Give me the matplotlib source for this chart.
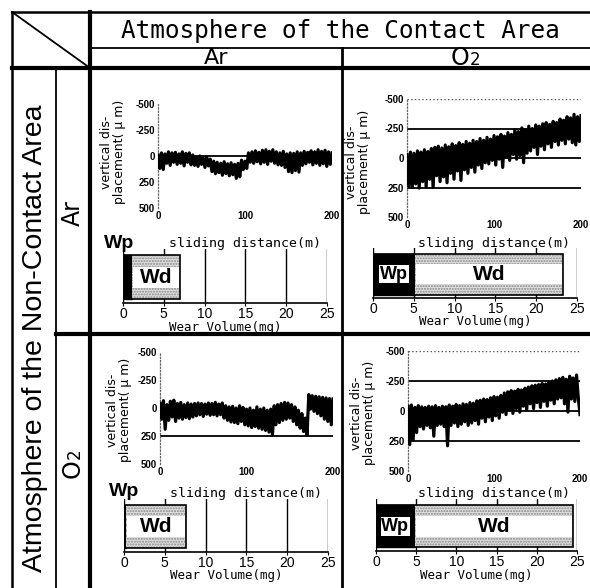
import numpy as np
import matplotlib.pyplot as plt

W, H = 590, 588

SANS = ['Liberation Sans', 'DejaVu Sans']
MONO = ['DejaVu Sans Mono']

# sliding distance (m), one reading every 2 m
distance = np.arange(0, 201, 2)

# vertical displacement (um), upper / lower excursions in turn
# non-contact Ar, contact Ar
disp_ar_ar = [-10, 120, -30, 130, -20, 70, -40, 90, -30, 60,
              -35, 80, -20, 70, -40, 95, -25, 60, -30, 85,
              -10, 90, 10, 100, 0, 80, 20, 110, 10, 95,
              30, 150, 50, 170, 60, 160, 70, 185, 55, 170,
              75, 190, 65, 180, 80, 215, 70, 200, 40, 130,
              50, 120, -30, 60, -40, 70, -50, 55, -35, 75,
              -55, 60, -60, 80, -45, 50, -60, 70, -40, 85,
              -30, 90, -45, 110, -20, 150, -30, 160, -25, 140,
              -40, 155, -30, 90, -45, 75, -35, 60, -50, 85,
              -40, 70, -60, 90, -45, 75, -55, 100, -40, 80, -30]
# non-contact Ar, contact O2
disp_ar_o2 = [-30, 240, -50, 250, -40, 220, -60, 255, -50, 200,
              -70, 245, -55, 180, -80, 250, -90, 150, -100, 200,
              -85, 160, -110, 210, -95, 130, -120, 180, -105, 110,
              -130, 190, -115, 100, -140, 130, -125, 80, -150, 120,
              -140, 60, -165, 90, -150, 40, -175, 50, -160, 20,
              -190, 60, -180, 10, -200, 80, -185, -10, -215, 20,
              -200, -30, -240, 10, -225, -20, -255, 40, -240, -40,
              -270, -60, -250, -90, -280, -30, -270, -100, -290, -70,
              -300, -120, -285, -90, -310, -140, -300, -110, -330, -150,
              -320, -120, -350, -160, -340, -130, -370, -110, -350, -140, -360]
# non-contact O2, contact Ar
disp_o2_ar = [-40, 100, -65, 190, -30, 110, -60, 80, -70, 120,
              -40, 90, -50, 100, -30, 85, -45, 95, -35, 80,
              -40, 70, -45, 60, -40, 75, -35, 55, -45, 65,
              -40, 60, -50, 70, -35, 60, -45, 90, -20, 110,
              -10, 125, -15, 130, 0, 140, -20, 120, -5, 150,
              10, 160, 0, 175, 20, 165, -10, 180, 10, 190,
              0, 200, 20, 215, 10, 240, -20, 150, -30, 130,
              -40, 110, -50, 100, -45, 90, -30, 120, -10, 150,
              20, 180, 50, 210, 90, 245, -120, 10, -110, 30,
              -105, 50, -100, 70, -95, 100, -90, 120, -85, 150, -80]
# non-contact O2, contact O2
disp_o2_o2 = [-40, 280, -50, 240, -30, 180, -45, 130, -35, 150,
              -30, 120, -40, 140, -35, 210, -45, 120, -30, 110,
              -40, 130, -35, 290, -50, 120, -40, 100, -55, 130,
              -45, 110, -60, 90, -55, 120, -70, 100, -65, 80,
              -85, 110, -90, 60, -100, 90, -95, 50, -110, 80,
              -120, 40, -115, 60, -130, 10, -150, 30, -160, -10,
              -170, 20, -165, -20, -180, 10, -175, -40, -190, -10,
              -200, -60, -210, -20, -215, -70, -220, -30, -230, -80,
              -225, -40, -240, -90, -250, -60, -260, -100, -270, -110,
              -280, -60, -265, 10, -290, -100, -275, -80, -300, -110, 30]

traces = [disp_ar_ar, disp_ar_o2, disp_o2_ar, disp_o2_o2]

# wear volume (mg): Wp and Wd parts of each bar
wp_volume = [1.1, 5.2, 0.2, 4.8]
wd_volume = [5.9, 18.1, 7.4, 19.7]

y_ticks = [-500, -250, 0, 250, 500]
x_ticks = [0, 100, 200]
wear_ticks = [0, 5, 10, 15, 20, 25]

# layout in pixels (x0, y0, x1, y1)
panels = [
    dict(plot=(158, 104, 332, 208), bar=(123, 249, 327, 303), solid=[0], dotted=[],
         ylab=(113, 152), slide_y=243, wp_out=(119, 243)),
    dict(plot=(407, 99, 581, 217), bar=(373, 248, 577, 298), solid=[-250, 0, 250], dotted=[-500],
         ylab=(358, 162), slide_y=243, wp_out=None),
    dict(plot=(160, 352, 333, 464), bar=(124, 499, 328, 552), solid=[250], dotted=[],
         ylab=(119, 410), slide_y=493, wp_out=(124, 492)),
    dict(plot=(408, 351, 580, 471), bar=(376, 499, 577, 551), solid=[-250, 0, 250], dotted=[-500],
         ylab=(363, 413), slide_y=493, wp_out=None),
]


def px_axes(fig, box):
    x0, y0, x1, y1 = box
    return fig.add_axes([x0 / W, 1 - y1 / H, (x1 - x0) / W, (y1 - y0) / H])


def o2_label(ax, x, y, rot):
    # "O" with a smaller "2" on the same baseline
    if rot:
        ax.text(x, y + 6, 'O', fontsize=17, rotation=90, ha='center', va='center')
        ax.text(x + 2, y - 9, '2', fontsize=12, rotation=90, ha='center', va='center')
    else:
        ax.text(x - 6, y, 'O', fontsize=17, ha='center', va='center')
        ax.text(x + 9, y + 2, '2', fontsize=12, ha='center', va='center')


fig = plt.figure(figsize=(W / 100, H / 100), dpi=100)

# table frame and headings, drawn in pixel coordinates
ov = fig.add_axes([0, 0, 1, 1])
ov.set_xlim(0, W)
ov.set_ylim(H, 0)
ov.axis('off')

ov.plot([12, W], [12, 12], color='k', lw=1.8)
ov.plot([12, 12], [12, H], color='k', lw=1.8)
ov.plot([12, 90], [12, 68], color='k', lw=1.3)
ov.plot([90, 90], [12, H], color='k', lw=3)
ov.plot([90, W], [48, 48], color='k', lw=1.3)
ov.plot([12, W], [68, 68], color='k', lw=3)
ov.plot([342, 342], [48, H], color='k', lw=2)
ov.plot([56, 56], [68, H], color='k', lw=1.3)
ov.plot([56, W], [334, 334], color='k', lw=3)

ov.text(340, 31, 'Atmosphere of the Contact Area', family=MONO, fontsize=17.6,
        ha='center', va='center')
ov.text(216, 58, 'Ar', fontsize=16, ha='center', va='center')
o2_label(ov, 466, 58, False)
ov.text(35, 338, 'Atmosphere of the Non-Contact Area', family=SANS,
        fontsize=20.5, rotation=90, ha='center', va='center')
ov.text(73, 213, 'Ar', fontsize=17, rotation=90, ha='center', va='center')
o2_label(ov, 73, 463, True)

for k, p in enumerate(panels):
    # displacement trace
    ax = px_axes(fig, p['plot'])
    ax.patch.set_alpha(0)
    ax.plot(distance, traces[k], color='black', lw=2.3, zorder=3)
    for lev in p['solid']:
        ax.axhline(lev, color='black', lw=1.3, zorder=2)
    for lev in p['dotted']:
        ax.axhline(lev, color='#555555', lw=1, ls=':', zorder=2)
    ax.set_xlim(0, 200)
    ax.set_ylim(500, -500)
    ax.set_yticks(y_ticks)
    ax.set_yticklabels([str(v) for v in y_ticks])
    ax.set_xticks(x_ticks)
    ax.set_xticklabels([str(v) for v in x_ticks])
    ax.tick_params(length=0, pad=2, labelsize=7)
    for lab in ax.get_xticklabels() + ax.get_yticklabels():
        lab.set_family(SANS)
        lab.set_fontweight('bold')
    for s in ['top', 'right', 'bottom']:
        ax.spines[s].set_visible(False)
    ax.spines['left'].set_linestyle(':')
    ax.spines['left'].set_color('#666666')
    ax.spines['left'].set_linewidth(0.9)

    cx = (p['plot'][0] + p['plot'][2]) / 2
    ov.text(cx, p['slide_y'], 'sliding distance(m)', family=MONO, fontsize=9.5,
            ha='center', va='center')
    ov.text(p['ylab'][0], p['ylab'][1], 'vertical dis-\nplacement( \u03bc m)', fontsize=9,
            rotation=90, ha='center', va='center', linespacing=0.95)

    # wear volume bar
    bx = px_axes(fig, p['bar'])
    bx.patch.set_alpha(0)
    wp, wd = wp_volume[k], wd_volume[k]
    bx.barh(0.475, wp, left=0, height=0.81, color='black', edgecolor='black', lw=1, zorder=3)
    bx.barh(0.475, wd, left=wp, height=0.81, color='#dedede', edgecolor='#8a8a8a',
            hatch='......', lw=0, zorder=3)
    bx.barh(0.475, wd - 0.25, left=wp + 0.12, height=0.4, color='white', lw=0, zorder=4)
    bx.barh(0.475, wp + wd, left=0, height=0.81, fill=False, edgecolor='black', lw=1.2, zorder=5)
    bx.text(wp + wd / 2, 0.475, 'Wd', family=SANS, fontweight='bold', fontsize=15,
            ha='center', va='center', zorder=6)
    if p['wp_out'] is None:
        bx.text(wp / 2, 0.475, 'Wp', family=SANS, fontweight='bold', fontsize=13,
                ha='center', va='center', zorder=6,
                bbox=dict(facecolor='white', edgecolor='none', pad=0.5))
    else:
        ov.text(p['wp_out'][0], p['wp_out'][1], 'Wp', family=SANS, fontweight='bold',
                fontsize=14, ha='center', va='center')
    bx.set_xlim(0, 25)
    bx.set_ylim(0, 1)
    bx.set_xticks(wear_ticks)
    bx.set_xticklabels([str(v) for v in wear_ticks])
    bx.set_yticks([])
    bx.set_axisbelow(True)
    bx.grid(axis='x', color='black', lw=1)
    bx.tick_params(axis='x', length=2, pad=1, labelsize=10)
    for lab in bx.get_xticklabels():
        lab.set_family(SANS)
    for s in ['top', 'right', 'left']:
        bx.spines[s].set_visible(False)
    bx.spines['bottom'].set_linewidth(1.2)

    bcx = (p['bar'][0] + p['bar'][2]) / 2
    ov.text(bcx, p['bar'][3] + 24, 'Wear Volume(mg)', family=MONO, fontsize=9,
            ha='center', va='center')

fig.savefig('out.png', dpi=100)
